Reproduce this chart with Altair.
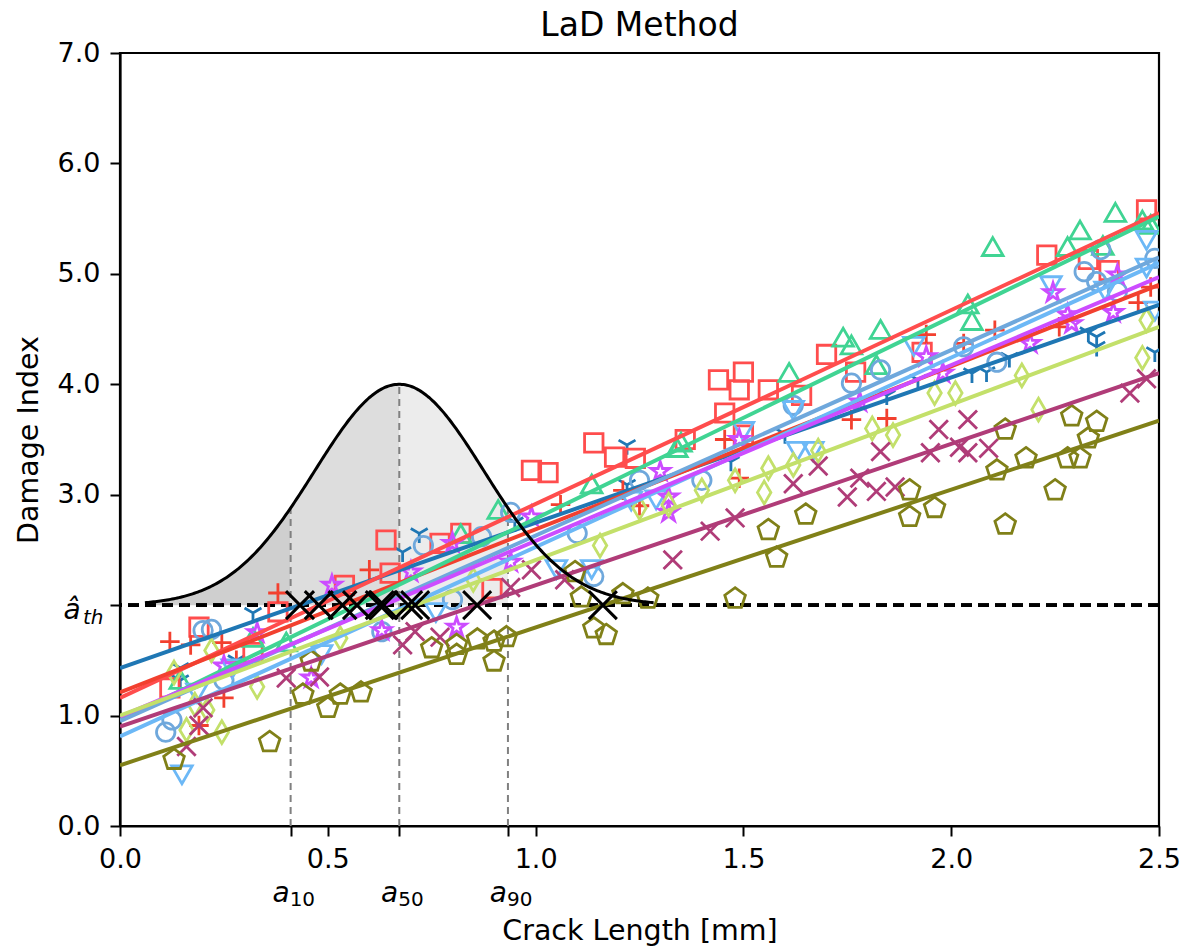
import altair as alt
import numpy as np
import pandas as pd

# ---------------- data ----------------
series = ["S1", "S2", "S3", "S4", "S5", "S6", "S7", "S8", "S9", "S10"]
colors = ["#1f77b4", "#ff4d4d", "#f2402f", "#40d493", "#6fa8dc",
          "#6cb8f6", "#cc4cff", "#c3e06a", "#b03c78", "#808018"]
intercepts = [1.43, 1.16, 1.21, 0.96, 0.95, 0.81, 0.99, 1.00, 0.90, 0.55]
end_values = [4.72, 5.55, 4.90, 5.52, 5.15, 5.10, 4.97, 4.52, 4.10, 3.67]
x_end = 2.5

blue_x = [0.145, 0.145, 0.32, 0.28, 0.68, 0.72, 0.95, 1.22, 1.22, 1.47, 1.60, 1.845, 1.92, 2.05, 2.085, 2.14, 2.33, 2.35, 2.35, 2.49]
blue_y = [1.43, 1.32, 1.93, 1.50, 2.48, 2.65, 2.75, 3.45, 3.09, 3.30, 3.55, 3.90, 4.04, 4.10, 4.11, 4.24, 4.47, 4.43, 4.34, 4.29]

sq_x = [0.12, 0.19, 0.32, 0.38, 0.54, 0.64, 0.65, 0.77, 0.82, 0.895, 0.99, 1.03, 1.14, 1.19, 1.24, 1.36, 1.44, 1.455, 1.49, 1.50, 1.50, 1.56, 1.64, 1.70, 1.77, 1.93, 2.23, 2.33, 2.38, 2.47]
sq_y = [1.25, 1.80, 1.57, 1.94, 2.18, 2.59, 2.29, 2.56, 2.65, 2.15, 3.22, 3.20, 3.47, 3.34, 3.33, 3.50, 4.04, 3.74, 3.95, 4.11, 3.54, 3.95, 3.90, 4.27, 4.11, 4.29, 5.17, 5.13, 5.03, 5.58]

pl_x = [0.12, 0.17, 0.245, 0.19, 0.25, 0.28, 0.38, 0.60, 1.06, 1.21, 1.25, 1.455, 1.49, 1.76, 1.845, 1.94, 2.03, 2.105, 2.26, 2.45, 2.48]
pl_y = [1.67, 1.64, 1.66, 0.91, 1.16, 1.50, 2.11, 2.32, 2.91, 3.04, 2.90, 3.50, 3.15, 3.68, 3.69, 4.45, 4.37, 4.49, 4.52, 4.74, 4.88]

gr_x = [0.145, 0.32, 0.40, 0.82, 0.91, 1.135, 1.34, 1.35, 1.61, 1.74, 1.76, 1.82, 1.83, 2.04, 2.05, 2.10, 2.28, 2.31, 2.365, 2.395, 2.46, 2.48]
gr_y = [1.30, 1.68, 1.64, 2.62, 2.84, 3.07, 3.40, 3.45, 4.08, 4.40, 4.33, 4.15, 4.47, 4.70, 4.55, 5.22, 5.22, 5.37, 5.23, 5.53, 5.46, 5.42]

ci_x = [0.11, 0.125, 0.20, 0.22, 0.25, 0.63, 0.73, 0.80, 0.87, 0.94, 1.10, 1.14, 1.25, 1.40, 1.62, 1.76, 1.83, 2.03, 2.11, 2.32, 2.35, 2.36, 2.40, 2.49]
ci_y = [0.85, 0.96, 1.77, 1.78, 1.32, 1.76, 2.54, 2.05, 2.62, 2.84, 2.65, 2.26, 3.13, 3.13, 3.81, 4.01, 4.13, 4.34, 4.20, 5.02, 4.93, 5.22, 4.84, 5.14]

td_x = [0.149, 0.185, 0.27, 0.485, 0.76, 1.05, 1.135, 1.23, 1.29, 1.50, 1.62, 1.63, 1.667, 1.91, 2.24, 2.37, 2.47, 2.47, 2.49]
td_y = [0.49, 1.23, 1.45, 1.58, 1.96, 2.35, 2.35, 2.97, 2.98, 3.60, 3.79, 3.42, 3.42, 4.37, 4.92, 4.87, 5.33, 5.08, 4.69]

st_x = [0.25, 0.33, 0.46, 0.51, 0.63, 0.70, 0.80, 0.81, 0.94, 0.99, 1.30, 1.32, 1.32, 1.49, 1.78, 1.94, 1.98, 2.19, 2.245, 2.28, 2.29, 2.39, 2.40]
st_y = [1.45, 1.75, 1.34, 2.18, 1.77, 2.30, 2.56, 1.80, 2.39, 2.80, 3.21, 2.98, 2.84, 3.50, 3.84, 4.25, 4.10, 4.37, 4.83, 4.63, 4.55, 4.65, 4.99]

di_x = [0.13, 0.16, 0.18, 0.21, 0.22, 0.245, 0.33, 0.53, 0.85, 1.155, 1.25, 1.32, 1.40, 1.48, 1.55, 1.56, 1.62, 1.68, 1.81, 1.86, 1.96, 2.01, 2.17, 2.21, 2.46, 2.47]
di_y = [1.39, 0.87, 1.10, 1.05, 1.59, 0.85, 1.26, 1.70, 2.23, 2.54, 2.88, 2.91, 3.04, 3.13, 3.02, 3.24, 3.27, 3.40, 3.60, 3.54, 3.92, 3.92, 4.08, 3.77, 4.24, 4.58]

xx_x = [0.16, 0.19, 0.20, 0.40, 0.48, 0.68, 0.71, 0.77, 0.94, 0.99, 1.07, 1.33, 1.42, 1.48, 1.62, 1.68, 1.75, 1.78, 1.82, 1.83, 1.865, 1.95, 1.97, 2.02, 2.04, 2.04, 2.09, 2.43, 2.47]
xx_y = [0.72, 0.91, 1.07, 1.34, 1.35, 1.64, 1.76, 1.71, 2.16, 2.32, 2.23, 2.41, 2.67, 2.79, 3.10, 3.26, 2.98, 3.15, 3.03, 3.39, 3.07, 3.38, 3.59, 3.43, 3.68, 3.38, 3.42, 3.92, 4.05]

pe_x = [0.13, 0.36, 0.44, 0.46, 0.50, 0.53, 0.58, 0.75, 0.81, 0.81, 0.86, 0.90, 0.90, 0.93, 1.095, 1.11, 1.14, 1.17, 1.21, 1.27, 1.48, 1.56, 1.58, 1.65, 1.90, 1.90, 1.96, 2.11, 2.13, 2.13, 2.18, 2.25, 2.28, 2.29, 2.31, 2.33, 2.35]
pe_y = [0.60, 0.76, 1.19, 1.49, 1.07, 1.19, 1.21, 1.61, 1.55, 1.64, 1.69, 1.49, 1.67, 1.71, 2.30, 2.07, 1.79, 1.73, 2.10, 2.06, 2.06, 2.68, 2.43, 2.82, 2.80, 3.04, 2.88, 3.22, 2.73, 3.59, 3.33, 3.04, 3.33, 3.71, 3.33, 3.51, 3.66]

threshold = 2.0
mu = 0.672      # a50
sigma = 0.204
peak = 2.0      # height of the drawn pdf above the threshold
z10, z90 = -1.2816, 1.2816
title_text = "LaD Method"

# ---------------- marker shapes ----------------
def star_path(R=0.9, r=0.9 * 0.382):
    pts = []
    for k in range(10):
        ang = np.pi / 2 + k * np.pi / 5
        rad = R if k % 2 == 0 else r
        pts.append((rad * np.cos(ang), -rad * np.sin(ang)))
    return "M" + "L".join(f"{px:.3f},{py:.3f}" for px, py in pts) + "Z"

shape_paths = [
    "M0,0L0,0.9M0,0L-0.78,-0.45M0,0L0.78,-0.45",                      # tri_down (Y)
    "M-0.85,-0.85L0.85,-0.85L0.85,0.85L-0.85,0.85Z",                  # square
    "M-0.9,0L0.9,0M0,-0.9L0,0.9",                                      # plus
    "M0,-1.1L0.95,0.55L-0.95,0.55Z",                                   # triangle up
    "M0.85,0A0.85,0.85 0 1,1 -0.85,0A0.85,0.85 0 1,1 0.85,0Z",        # circle
    "M0,1.1L0.95,-0.55L-0.95,-0.55Z",                                  # triangle down
    star_path(),                                                       # star
    "M0,-1.05L0.62,0L0,1.05L-0.62,0Z",                                 # thin diamond
    "M-0.85,-0.85L0.85,0.85M-0.85,0.85L0.85,-0.85",                    # x
    "M0,-1L0.951,-0.309L0.588,0.809L-0.588,0.809L-0.951,-0.309Z",      # pentagon
]

# ---------------- tables ----------------
pts_x = [blue_x, sq_x, pl_x, gr_x, ci_x, td_x, st_x, di_x, xx_x, pe_x]
pts_y = [blue_y, sq_y, pl_y, gr_y, ci_y, td_y, st_y, di_y, xx_y, pe_y]
pts = pd.concat([pd.DataFrame({"s": n, "x": xs, "y": ys})
                 for n, xs, ys in zip(series, pts_x, pts_y)], ignore_index=True)

lines = pd.concat([pd.DataFrame({"s": n, "x": [0.0, x_end], "y": [b, e]})
                   for n, b, e in zip(series, intercepts, end_values)], ignore_index=True)

slopes = [(e - b) / x_end for b, e in zip(intercepts, end_values)]
cross = pd.DataFrame({"x": [(threshold - b) / m for b, m in zip(intercepts, slopes)],
                      "y": threshold})

a10, a50, a90 = mu + z10 * sigma, mu, mu + z90 * sigma
def pdf(x):
    return threshold + peak * np.exp(-0.5 * ((x - mu) / sigma) ** 2)

gx = np.linspace(mu - 3 * sigma, mu + 3 * sigma, 300)
curve = pd.DataFrame({"x": gx, "y": pdf(gx)})
def seg(lo, hi):
    xs = np.linspace(lo, hi, 120)
    return pd.DataFrame({"x": xs, "y": pdf(xs), "y2": threshold})
seg1, seg2, seg3 = seg(mu - 3 * sigma, a10), seg(a10, a50), seg(a50, a90)

avals = [a10, a50, a90]
vrules = pd.DataFrame({"x": avals, "y": 0.0, "y2": [pdf(a) for a in avals]})
alabels = pd.DataFrame({"x": avals, "lab": ["10", "50", "90"]})
title_df = pd.DataFrame({"t": [title_text]})

# ---------------- encodings ----------------
FONT = "DejaVu Sans"
std_ticks = [0.0, 0.5, 1.0, 1.5, 2.0, 2.5]
common_axis = dict(grid=False,
                   labelFont=FONT, labelFontSize=27, labelColor="black", labelPadding=10,
                   titleFont=FONT, titleFontSize=28.5, titleFontWeight="normal", titleColor="black",
                   tickColor="black", tickWidth=2, tickSize=10,
                   domainColor="black", domainWidth=2.2, labelFlush=False, labelOverlap=False,
                   titleBaseline="middle", titleAlign="center")
xaxis = alt.Axis(values=std_ticks + avals,
                 labelExpr="indexof([0,0.5,1,1.5,2,2.5], datum.value) >= 0 ? format(datum.value, '.1f') : ''",
                 title="Crack Length [mm]", titleX=519.5, titleY=104, **common_axis)
yaxis = alt.Axis(values=[0, 1, 2, 3, 4, 5, 6, 7],
                 labelExpr="datum.value == 2 ? '' : format(datum.value, '.1f')",
                 title="Damage Index", titleX=-92, titleY=386.5, titleAngle=-90, **common_axis)
X = alt.X("x:Q", scale=alt.Scale(domain=[0, 2.5], nice=False, zero=False), axis=xaxis)
Y = alt.Y("y:Q", scale=alt.Scale(domain=[0, 7], nice=False), axis=yaxis)

col = alt.Color("s:N", scale=alt.Scale(domain=series, range=colors), legend=None)
shp = alt.Shape("s:N", scale=alt.Scale(domain=series, range=shape_paths), legend=None)

def area(df, c):
    return alt.Chart(df).mark_area(color=c, opacity=1).encode(x=X, y=Y, y2="y2:Q")

layers = [
    area(seg1, "#cfcfcf"),
    area(seg2, "#dddddd"),
    area(seg3, "#ececec"),
    alt.Chart(vrules).mark_rule(color="#808080", strokeDash=[7, 5], strokeWidth=2)
        .encode(x=X, y=Y, y2="y2:Q"),
    alt.Chart(cross).mark_rule(color="black", strokeDash=[11, 6], strokeWidth=2.8)
        .encode(y=Y),
    alt.Chart(pts).mark_point(filled=False, size=470, strokeWidth=2.8, opacity=1, clip=True)
        .encode(x=X, y=Y, color=col, shape=shp),
    alt.Chart(lines).mark_line(strokeWidth=4, clip=True)
        .encode(x=X, y=Y, color=col, detail="s:N"),
    alt.Chart(curve).mark_line(color="black", strokeWidth=3).encode(x=X, y=Y),
    alt.Chart(cross).mark_point(shape="M-1,-1L1,1M-1,1L1,-1", size=784, filled=False,
                                color="black", strokeWidth=3, opacity=1)
        .encode(x=X, y=Y),
    # a-hat_th label at the threshold tick
    alt.Chart(cross.head(1)).mark_text(text="â", font=FONT, fontSize=28, fontStyle="italic",
                                       align="center", baseline="alphabetic", dy=14, color="black")
        .encode(x=alt.value(-48), y=Y),
    alt.Chart(cross.head(1)).mark_text(text="th", font=FONT, fontSize=20, fontStyle="italic",
                                       align="left", baseline="alphabetic", dy=19, color="black")
        .encode(x=alt.value(-37), y=Y),
    # a_10, a_50, a_90 labels under the axis
    alt.Chart(alabels).mark_text(text="a", font=FONT, fontSize=28, fontStyle="italic",
                                 align="right", baseline="alphabetic", dx=-1, color="black")
        .encode(x=X, y=alt.value(849)),
    alt.Chart(alabels).mark_text(font=FONT, fontSize=20, align="left",
                                 baseline="alphabetic", dx=-1, color="black")
        .encode(x=X, y=alt.value(853), text="lab:N"),
    # title
    alt.Chart(title_df).mark_text(font=FONT, fontSize=33, align="center",
                                  baseline="alphabetic", color="black")
        .encode(x=alt.value(519.5), y=alt.value(-17), text="t:N"),
]

chart = alt.layer(*layers).properties(
    width=1039, height=773,
    background="white",
    autosize=alt.AutoSizeParams(type="none"),
    padding={"left": 112, "top": 45, "right": 22, "bottom": 126},
).configure_view(stroke="black", strokeWidth=2.2)

chart.save("out.html", embed_options={"renderer": "svg", "actions": False})
